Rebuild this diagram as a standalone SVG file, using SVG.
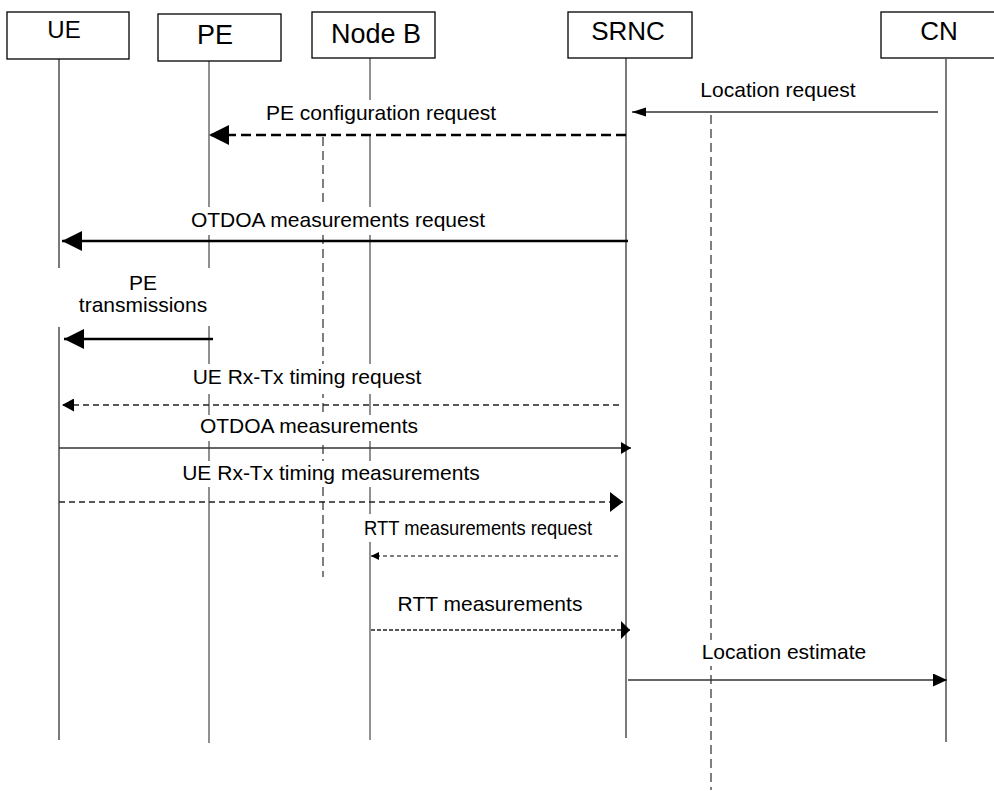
<svg xmlns="http://www.w3.org/2000/svg" width="994" height="791" viewBox="0 0 994 791">
<style>
  .box { fill: #ffffff; stroke: #000000; stroke-width: 1.3; }
  .hdr { font-family: "Liberation Sans", Arial, sans-serif; fill: #000; text-anchor: middle; }
  .lbl { font-family: "Liberation Sans", Arial, sans-serif; font-size: 21px; fill: #000; text-anchor: middle; }
  .life { stroke: #333; stroke-width: 1.3; fill: none; }
  .lifeg { stroke: #555; stroke-width: 1.3; fill: none; }
  .vdash { stroke: #555; stroke-width: 1.5; stroke-dasharray: 9 5; fill: none; }
  .bg { fill: #ffffff; stroke: none; }
  .thin { stroke: #333; stroke-width: 1.5; fill: none; }
  .thick { stroke: #000; stroke-width: 2.5; fill: none; }
  .thickdash { stroke: #000; stroke-width: 2.5; stroke-dasharray: 10 5; fill: none; }
  .dash { stroke: #222; stroke-width: 1.3; stroke-dasharray: 6 4; fill: none; }
  .dot { stroke: #555; stroke-width: 1.3; stroke-dasharray: 4 3; fill: none; }
  .dot2 { stroke: #222; stroke-width: 1.6; stroke-dasharray: 4 2; fill: none; }
</style>
<defs>
  <marker id="big" markerUnits="userSpaceOnUse" markerWidth="20" markerHeight="20" refX="20" refY="10" orient="auto"><path d="M0,0 L20,10 L0,20 z" fill="#000"/></marker>
  <marker id="sm1" markerUnits="userSpaceOnUse" markerWidth="14" markerHeight="10" refX="14" refY="5" orient="auto"><path d="M0,0.5 L14,5 L0,9.5 z" fill="#000"/></marker>
  <marker id="sm2" markerUnits="userSpaceOnUse" markerWidth="12" markerHeight="13" refX="12" refY="6.5" orient="auto"><path d="M0,0 L12,6.5 L0,13 z" fill="#000"/></marker>
  <marker id="sm3" markerUnits="userSpaceOnUse" markerWidth="10" markerHeight="12" refX="10" refY="6" orient="auto"><path d="M0,0 L10,6 L0,12 z" fill="#000"/></marker>
  <marker id="md" markerUnits="userSpaceOnUse" markerWidth="13" markerHeight="20" refX="13" refY="10" orient="auto"><path d="M0,0 L13,10 L0,20 z" fill="#000"/></marker>
  <marker id="tiny" markerUnits="userSpaceOnUse" markerWidth="8" markerHeight="8" refX="8" refY="4" orient="auto"><path d="M0,0 L8,4 L0,8 z" fill="#000"/></marker>
  <marker id="md2" markerUnits="userSpaceOnUse" markerWidth="9" markerHeight="18" refX="9" refY="9" orient="auto"><path d="M0,0 L9,9 L0,18 z" fill="#000"/></marker>
  <marker id="le" markerUnits="userSpaceOnUse" markerWidth="14" markerHeight="13" refX="14" refY="6.5" orient="auto"><path d="M0,0 L14,6.5 L0,13 z" fill="#000"/></marker>
</defs>

<g id="lifelines">
  <path class="life" d="M59,59 V268 M59,327 V740"/>
  <path class="lifeg" d="M209,61 V268 M209,326 V743"/>
  <path class="lifeg" d="M370,58 V740"/>
  <path class="life" d="M626,58 V738" stroke="#000"/>
  <path class="life" d="M946,59 V742" stroke="#000"/>
  <path class="vdash" d="M323,137 V577"/>
  <path class="vdash" d="M711,115 V790"/>
</g>

<g id="UE"><rect class="box" x="7" y="12" width="122" height="47"/><text class="hdr" x="64" y="38" font-size="24">UE</text></g>
<g id="PE"><rect class="box" x="158" y="14" width="123" height="47"/><text class="hdr" x="215" y="44" font-size="27">PE</text></g>
<g id="NodeB"><rect class="box" x="312" y="12" width="123" height="46"/><text class="hdr" x="376" y="43" font-size="27">Node B</text></g>
<g id="SRNC"><rect class="box" x="568" y="12" width="124" height="46"/><text class="hdr" x="628" y="40" font-size="26">SRNC</text></g>
<g id="CN"><rect class="box" x="881" y="12" width="122" height="46"/><text class="hdr" x="939" y="40" font-size="26">CN</text></g>

<g id="label-backgrounds">
  <rect class="bg" x="262" y="100" width="238" height="34"/>
  <rect class="bg" x="188" y="207" width="302" height="28"/>
  <rect class="bg" x="190" y="364" width="236" height="30"/>
  <rect class="bg" x="194" y="415" width="230" height="26"/>
  <rect class="bg" x="180" y="461" width="304" height="26"/>
  <rect class="bg" x="362" y="514" width="232" height="28"/>
  <rect class="bg" x="700" y="640" width="170" height="26"/>
</g>

<g id="labels">
  <text class="lbl" x="778" y="97">Location request</text>
  <text class="lbl" x="381" y="120">PE configuration request</text>
  <text class="lbl" x="338" y="227">OTDOA measurements request</text>
  <text class="lbl" x="143" y="290">PE</text>
  <text class="lbl" x="143" y="312">transmissions</text>
  <text class="lbl" x="307" y="384">UE Rx-Tx timing request</text>
  <text class="lbl" x="309" y="433">OTDOA measurements</text>
  <text class="lbl" x="331" y="480">UE Rx-Tx timing measurements</text>
  <text class="lbl" x="478" y="535" textLength="228" lengthAdjust="spacingAndGlyphs">RTT measurements request</text>
  <text class="lbl" x="490" y="611">RTT measurements</text>
  <text class="lbl" x="784" y="659">Location estimate</text>
</g>

<g id="connectors">
  <line class="thin" x1="938" y1="112" x2="632" y2="112" marker-end="url(#sm1)"/>
  <line class="thickdash" x1="626" y1="135" x2="209" y2="135" marker-end="url(#big)"/>
  <line class="thick" x1="628" y1="241" x2="62" y2="241" marker-end="url(#big)"/>
  <line class="thick" x1="213" y1="339" x2="64" y2="339" marker-end="url(#big)"/>
  <line class="dash" x1="619" y1="405" x2="62" y2="405" marker-end="url(#sm2)"/>
  <line class="thin" x1="59" y1="448" x2="631" y2="448" marker-end="url(#sm3)"/>
  <line class="dash" x1="59" y1="502" x2="623" y2="502" marker-end="url(#md)"/>
  <line class="dot" x1="618" y1="556" x2="371" y2="556" marker-end="url(#tiny)"/>
  <line class="dot2" x1="371" y1="630" x2="630" y2="630" marker-end="url(#md2)"/>
  <line class="thin" x1="628" y1="680" x2="947" y2="680" marker-end="url(#le)"/>
</g>
</svg>
